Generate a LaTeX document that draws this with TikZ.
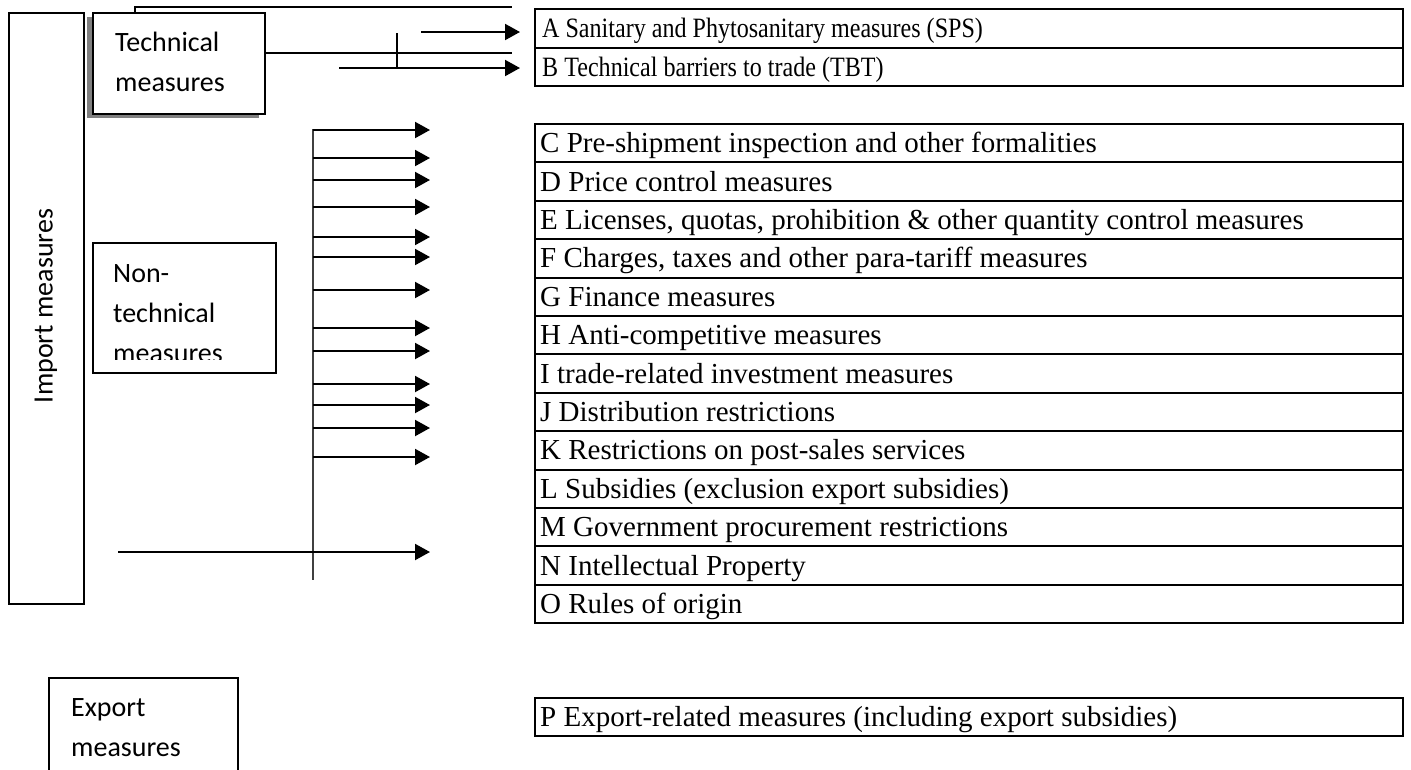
\documentclass[tikz,border=0pt]{standalone}
\usepackage{fontspec}
\setmainfont{Liberation Serif}
\newfontfamily\condserif[FakeStretch=0.86]{Liberation Serif}
\newfontfamily\calib{Carlito}
\usetikzlibrary{arrows.meta}
\begin{document}
\begin{tikzpicture}[x=1pt,y=-1pt,
  rowbox/.style={draw,line width=2pt,anchor=north west,minimum width=868pt,
    minimum height=38.4pt,inner sep=0pt},
  rowtext/.style={anchor=base west,inner sep=0pt,font=\fontsize{29}{33}\selectfont},
  condtext/.style={rowtext,font=\condserif\fontsize{28}{32}\selectfont},
  lbox/.style={draw,line width=1.5pt,anchor=north west,inner sep=0pt},
  ltext/.style={anchor=base west,inner sep=0pt,align=left,
    font=\calib\fontsize{28}{40}\selectfont},
  arr/.style={line width=2pt,-{Triangle[length=15pt,width=16pt]}},
  plain/.style={line width=2pt},
  trunk/.style={line width=1.5pt,black!75}
]
\useasboundingbox[fill=white] (0,0) rectangle (1411,769);

% ---- left boxes
\node[lbox,minimum width=75pt,minimum height=591pt] (imp) at (8,12) {};
\node[rotate=90,inner sep=0pt,font=\calib\fontsize{28}{34}\selectfont] (impt) at (46,306) {Import measures};

\fill[black!50] (87,17) rectangle (259,118);
\node[lbox,line width=2pt,fill=white,minimum width=172pt,minimum height=101pt] (tech) at (92,12) {};
\node[ltext] (techt) at (115,91) {Technical\\measures};

\node[lbox,minimum width=183pt,minimum height=130pt] (nontech) at (92,242) {};
\begin{scope}
\clip (93,243) rectangle (274,359);
\node[ltext] (nontecht) at (113,362) {Non-\\technical\\measures};
\end{scope}

\coordinate (exbl) at (49,772);
\coordinate (exbr) at (238,772);
\coordinate (extl) at (49,678);
\coordinate (extr) at (238,678);
\draw[line width=1.5pt] (exbl) -- (extl) -- (extr) -- (exbr);
\node[ltext] (expt) at (71,756) {Export\\measures};

% ---- technical connectors
\coordinate (ta) at (135,12);
\coordinate (tb) at (135,7);
\coordinate (tc) at (512,7);
\draw[plain] (ta) -- (tb) -- (tc);
\coordinate (md) at (512,53);
\draw[plain] (tech.east |- md) -- (md);
\coordinate (aS) at (421,32);
\coordinate (aE) at (520,32);
\draw[arr] (aS) -- (aE);
\coordinate (bS) at (339,68);
\coordinate (bE) at (520,68);
\draw[arr] (bS) -- (bE);
\coordinate (k1) at (397,33);
\coordinate (k2) at (397,69);
\draw[line width=1.5pt] (k1) -- (k2);

% ---- non-technical connectors
\coordinate (ttop) at (313,129);
\coordinate (tbot) at (313,580);
\draw[trunk] (ttop) -- (tbot);
\foreach \yy [count=\i] in {130,158,180,207,237,257,290,328,351,384,405,428,457} {
  \coordinate (s\i) at (313,\yy);
  \coordinate (e\i) at (430,\yy);
  \draw[arr] (s\i) -- (e\i);
}
\coordinate (nS) at (118,552);
\coordinate (nE) at (430,552);
\draw[arr] (nS) -- (nE);

% ---- tables
\node[rowbox,minimum height=39pt] (A) at (534,8) {};
\node[condtext] (At) at ([xshift=8pt,yshift=-9.2pt]A.west) {A Sanitary and Phytosanitary measures (SPS)};
\node[rowbox,minimum height=38pt] (B) at (534,47) {};
\node[condtext] (Bt) at ([xshift=8pt,yshift=-9.2pt]B.west) {B Technical barriers to trade (TBT)};

\node[rowbox] (C) at (534,123.0) {};
\node[rowbox] (D) at (534,161.4) {};
\node[rowbox] (E) at (534,199.8) {};
\node[rowbox] (F) at (534,238.2) {};
\node[rowbox] (G) at (534,276.6) {};
\node[rowbox] (H) at (534,315.0) {};
\node[rowbox] (I) at (534,353.4) {};
\node[rowbox] (J) at (534,391.8) {};
\node[rowbox] (K) at (534,430.2) {};
\node[rowbox] (L) at (534,468.6) {};
\node[rowbox] (M) at (534,507.0) {};
\node[rowbox] (N) at (534,545.4) {};
\node[rowbox] (O) at (534,583.8) {};
\node[rowbox,minimum height=38pt] (P) at (534,697) {};

\tikzset{rt/.style={rowtext}}
\node[rt] (Ct) at ([xshift=6pt,yshift=-9.5pt]C.west) {C Pre-shipment inspection and other formalities};
\node[rt] (Dt) at ([xshift=6pt,yshift=-9.5pt]D.west) {D Price control measures};
\node[rt] (Et) at ([xshift=6pt,yshift=-9.5pt]E.west) {E Licenses, quotas, prohibition \& other quantity control measures};
\node[rt] (Ft) at ([xshift=6pt,yshift=-9.5pt]F.west) {F Charges, taxes and other para-tariff measures};
\node[rt] (Gt) at ([xshift=6pt,yshift=-9.5pt]G.west) {G Finance measures};
\node[rt] (Ht) at ([xshift=6pt,yshift=-9.5pt]H.west) {H Anti-competitive measures};
\node[rt] (It) at ([xshift=6pt,yshift=-9.5pt]I.west) {I trade-related investment measures};
\node[rt] (Jt) at ([xshift=6pt,yshift=-9.5pt]J.west) {J Distribution restrictions};
\node[rt] (Kt) at ([xshift=6pt,yshift=-9.5pt]K.west) {K Restrictions on post-sales services};
\node[rt] (Lt) at ([xshift=6pt,yshift=-9.5pt]L.west) {L Subsidies (exclusion export subsidies)};
\node[rt] (Mt) at ([xshift=6pt,yshift=-9.5pt]M.west) {M Government procurement restrictions};
\node[rt] (Nt) at ([xshift=6pt,yshift=-9.5pt]N.west) {N Intellectual Property};
\node[rt] (Ot) at ([xshift=6pt,yshift=-9.5pt]O.west) {O Rules of origin};
\node[rt] (Pt) at ([xshift=6pt,yshift=-9.5pt]P.west) {P Export-related measures (including export subsidies)};
\end{tikzpicture}
\end{document}
